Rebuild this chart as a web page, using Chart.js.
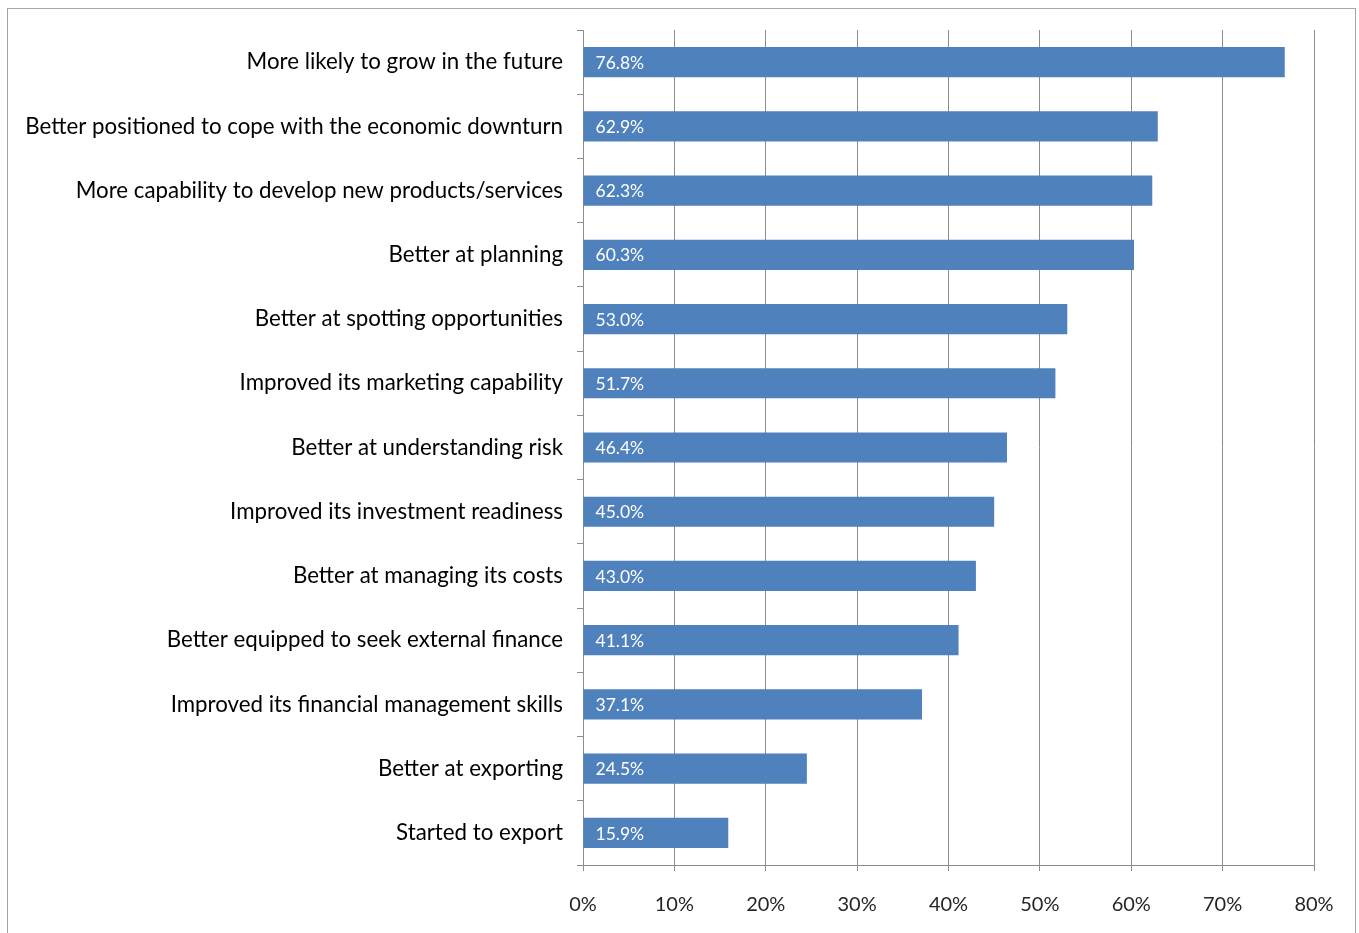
<!DOCTYPE html>
<html>
<head>
<meta charset="utf-8">
<script src="https://cdn.jsdelivr.net/npm/chart.js@4/dist/chart.umd.min.js"></script>
<style>
  html, body { margin: 0; padding: 0; background: #fff; overflow: hidden; }
  #frame {
    position: absolute; left: 7px; top: 8px;
    width: 1347px; height: 1000px;
    border: 1px solid #a6a6a6;
  }
  #chart { position: absolute; left: 0; top: 0; }
</style>
</head>
<body>
<div id="frame"></div>
<canvas id="chart" width="1359" height="933"></canvas>
<script>
// survey outcomes, share of respondents (%)
const labels = [
  'More likely to grow in the future',
  'Better positioned to cope with the economic downturn',
  'More capability to develop new products/services',
  'Better at planning',
  'Better at spotting opportunities',
  'Improved its marketing capability',
  'Better at understanding risk',
  'Improved its investment readiness',
  'Better at managing its costs',
  'Better equipped to seek external finance',
  'Improved its financial management skills',
  'Better at exporting',
  'Started to export'
];
const values = [76.8, 62.9, 62.3, 60.3, 53.0, 51.7, 46.4, 45.0, 43.0, 41.1, 37.1, 24.5, 15.9];
const xTicks = [0, 10, 20, 30, 40, 50, 60, 70, 80];

const FONT = 'Lato, "Open Sans", sans-serif';

// white value text inside each bar, near its base
const barLabels = {
  id: 'barLabels',
  afterDatasetsDraw(chart) {
    const ctx = chart.ctx;
    const meta = chart.getDatasetMeta(0);
    ctx.save();
    ctx.fillStyle = '#ffffff';
    ctx.font = '17.5px ' + FONT;
    ctx.textAlign = 'left';
    ctx.textBaseline = 'middle';
    meta.data.forEach((bar, i) => {
      ctx.fillText(values[i].toFixed(1) + '%', bar.base + 12, bar.y + 1);
    });
    ctx.restore();
  }
};

const ctx = document.getElementById('chart');
new Chart(ctx, {
  type: 'bar',
  data: {
    labels: labels,
    datasets: [{
      data: values,
      backgroundColor: '#4f81bd',
      borderWidth: 0,
      barPercentage: 0.47,
      categoryPercentage: 1
    }]
  },
  options: {
    indexAxis: 'y',
    responsive: false,
    animation: false,
    layout: { padding: { top: 30, right: 45, left: 0, bottom: 0 } },
    plugins: {
      legend: { display: false },
      tooltip: { enabled: false }
    },
    scales: {
      x: {
        min: 0,
        max: 80,
        afterBuildTicks(axis) {
          axis.ticks = xTicks.map(v => ({ value: v }));
        },
        afterFit(axis) { axis.height = 68; },
        grid: {
          color: '#8c8c8c',
          lineWidth: 1,
          tickLength: 6,
          drawTicks: true
        },
        border: { color: '#8c8c8c' },
        ticks: {
          padding: 22,
          color: '#262626',
          font: { family: FONT, size: 20 },
          callback: v => v + '%'
        }
      },
      y: {
        afterFit(axis) { axis.width = 583; },
        grid: {
          drawOnChartArea: false,
          color: '#8c8c8c',
          tickLength: 6,
          offset: true
        },
        border: { color: '#8c8c8c' },
        ticks: {
          padding: 14,
          color: '#000000',
          font: { family: FONT, size: 22.3 }
        }
      }
    }
  },
  plugins: [barLabels]
});
</script>
</body>
</html>
